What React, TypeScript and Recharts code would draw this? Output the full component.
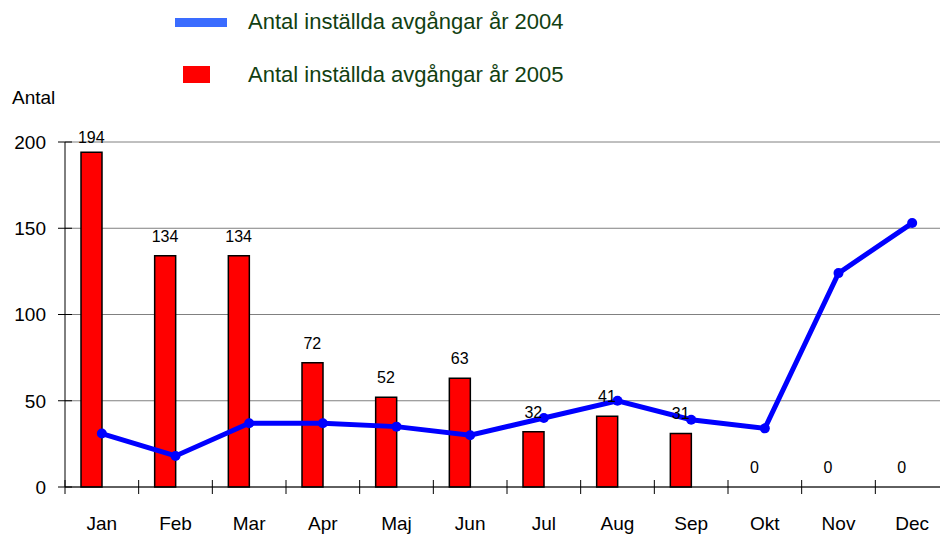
import React from 'react';
import { ComposedChart, Bar, Line, XAxis, YAxis, CartesianGrid, LabelList } from 'recharts';

const months = ['Jan', 'Feb', 'Mar', 'Apr', 'Maj', 'Jun', 'Jul', 'Aug', 'Sep', 'Okt', 'Nov', 'Dec'];
const cancelled2004 = [31, 18, 37, 37, 35, 30, 40, 50, 39, 34, 124, 153];
const cancelled2005 = [194, 134, 134, 72, 52, 63, 32, 41, 31, 0, 0, 0];
const yTicks = [0, 50, 100, 150, 200];

const legendNames = ['Antal inställda avgångar år 2004', 'Antal inställda avgångar år 2005'];

const data = months.map((m, i) => ({ month: m, y2004: cancelled2004[i], y2005: cancelled2005[i] }));

const W = 950;
const H = 535;
const PLOT_LEFT = 65;
const PLOT_RIGHT = 1;
const BAR = 21;
const BAND = (W - PLOT_LEFT - PLOT_RIGHT) / months.length;
const FONT = '"Liberation Sans", Arial, sans-serif';

const XTick = ({ x, y, payload }: any) => (
  <g>
    <line x1={x - BAND / 2} x2={x - BAND / 2} y1={y - 7} y2={y + 7} stroke="#000" strokeWidth={1} />
    <text x={x} y={y + 36} dy="0.36em" textAnchor="middle" fontSize={19} fill="#000" fontFamily={FONT}>
      {payload.value}
    </text>
  </g>
);

const YTick = ({ x, y, payload }: any) => (
  <g>
    <line x1={x - 7} x2={x + 7} y1={y} y2={y} stroke="#000" strokeWidth={1} />
    <text x={x - 19} y={y} dy="0.36em" textAnchor="end" fontSize={19} fill="#000" fontFamily={FONT}>
      {payload.value}
    </text>
  </g>
);

// value labels sit above the 2005 bar, which is the left half of the category slot
const BarValue = ({ x, y, value }: any) => {
  const cy = Math.max(y - 20, 137.5);
  return (
    <text x={x - BAR / 2} y={cy} dy="0.36em" textAnchor="middle" fontSize={16} fill="#000" fontFamily={FONT}>
      {value}
    </text>
  );
};

const LegendBox = () => (
  <div style={{ position: 'absolute', left: 0, top: 0, width: 600, height: 100, fontFamily: FONT }}>
    <div style={{ position: 'absolute', left: 175, top: 18, width: 52, height: 9, background: '#3a6cff' }} />
    <div style={{ position: 'absolute', left: 248, top: 8, fontSize: 22, lineHeight: '28px', color: '#123f12', whiteSpace: 'nowrap' }}>
      {legendNames[0]}
    </div>
    <div style={{ position: 'absolute', left: 183, top: 66, width: 27, height: 17, background: '#ff0000' }} />
    <div style={{ position: 'absolute', left: 248, top: 61, fontSize: 22, lineHeight: '28px', color: '#123f12', whiteSpace: 'nowrap' }}>
      {legendNames[1]}
    </div>
  </div>
);

export default function App() {
  return (
    <div style={{ position: 'absolute', left: 0, top: 0, width: 940, height: H, overflow: 'hidden', background: '#fff' }}>
      <ComposedChart
        width={W}
        height={H}
        data={data}
        margin={{ top: 142, right: PLOT_RIGHT, left: 0, bottom: 0 }}
        barGap={0}
      >
        <CartesianGrid vertical={false} stroke="#808080" strokeWidth={1} />
        <XAxis
          dataKey="month"
          height={48}
          axisLine={{ stroke: '#000', strokeWidth: 1 }}
          tickLine={false}
          tickSize={0}
          tickMargin={0}
          tick={<XTick />}
          interval={0}
        />
        <YAxis
          width={PLOT_LEFT}
          domain={[0, 200]}
          ticks={yTicks}
          axisLine={{ stroke: '#000', strokeWidth: 1 }}
          tickLine={false}
          tickSize={0}
          tickMargin={0}
          tick={<YTick />}
        />
        <Bar dataKey="y2005" name={legendNames[1]} fill="#ff0000" stroke="#000" strokeWidth={1.5} barSize={BAR} isAnimationActive={false} />
        <Bar dataKey="pad" legendType="none" fill="none" barSize={BAR} isAnimationActive={false} />
        <Line
          type="linear"
          dataKey="y2005"
          legendType="none"
          stroke="none"
          dot={false}
          activeDot={false}
          isAnimationActive={false}
        >
          <LabelList dataKey="y2005" content={<BarValue />} />
        </Line>
        <Line
          type="linear"
          dataKey="y2004"
          name={legendNames[0]}
          stroke="#0000ff"
          strokeWidth={5}
          dot={{ r: 5, fill: '#0000ff', stroke: '#0000ff', strokeWidth: 0 }}
          isAnimationActive={false}
        />
      </ComposedChart>
      <LegendBox />
      <div style={{ position: 'absolute', left: 12, top: 86, fontSize: 19, lineHeight: '24px', fontFamily: FONT, color: '#000' }}>
        Antal
      </div>
    </div>
  );
}
